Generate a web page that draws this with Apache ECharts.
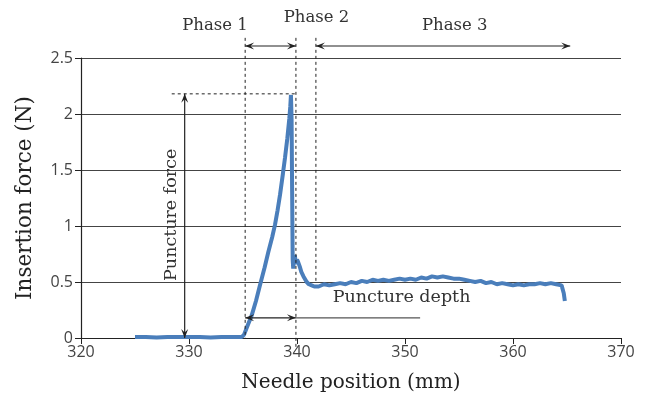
<!DOCTYPE html>
<html><head><meta charset="utf-8">
<script src="https://cdn.jsdelivr.net/npm/echarts@6/dist/echarts.min.js"></script>
<style>html,body{margin:0;padding:0;background:#fff}#c{width:649px;height:407px}</style>
</head><body><div id="c"></div>
<script>
// Needle position (mm)
const positions = [325.0,326,327,328,329,330,331,332,333,334,334.9,335.1,335.3,335.8,336.2,336.57,337.0,337.35,337.7,337.96,338.2,338.43,338.7,338.89,339.1,339.29,339.38,339.44,339.5,339.55,339.6,339.65,339.7,339.8,339.9,340.0,340.1,340.25,340.4,340.6,340.9,341.1,341.36,341.6,342,342.5,343,343.5,344,344.5,345,345.5,346,346.5,347,347.5,348,348.5,349,349.5,350,350.5,351,351.5,352,352.5,353,353.5,354,354.5,355,355.5,356,356.5,357,357.5,358,358.5,359,359.5,360,360.5,361,361.5,362,362.5,363,363.5,364,364.5,364.7,364.8];
// Insertion force (N)
const forces = [0.01,0.01,0.005,0.01,0.01,0.01,0.01,0.005,0.01,0.01,0.01,0.03,0.08,0.2,0.33,0.47,0.63,0.77,0.9,1.01,1.14,1.28,1.47,1.61,1.78,1.96,2.07,2.17,1.95,1.3,0.7,0.62,0.72,0.74,0.66,0.7,0.68,0.64,0.59,0.55,0.5,0.48,0.47,0.46,0.46,0.48,0.47,0.48,0.49,0.48,0.5,0.49,0.51,0.5,0.52,0.51,0.52,0.51,0.52,0.53,0.52,0.53,0.52,0.54,0.53,0.55,0.54,0.55,0.54,0.53,0.53,0.52,0.51,0.5,0.51,0.49,0.5,0.48,0.49,0.48,0.47,0.48,0.47,0.48,0.48,0.49,0.48,0.49,0.48,0.47,0.4,0.33];
const xTicks = [320,330,340,350,360,370];
const yTicks = [0,0.5,1,1.5,2,2.5];
// annotation anchors (data units)
const phaseBounds = [335.2, 339.9, 341.75];
const phaseEnd = 365.3;
const peakForce = 2.18;

const chart = echarts.init(document.getElementById('c'), null, {renderer:'canvas'});
const serif = 'DejaVu Serif';
chart.setOption({
  animation:false,
  grid:{left:81,right:28,top:58,bottom:69},
  xAxis:{type:'value',min:xTicks[0],max:xTicks[xTicks.length-1],interval:10,
    name:'Needle position (mm)',nameLocation:'middle',nameGap:35,
    nameTextStyle:{fontFamily:serif,fontSize:20,color:'#222'},
    axisLine:{lineStyle:{color:'#222',width:1.2}},
    axisTick:{show:true,length:6,lineStyle:{color:'#222'}},
    axisLabel:{fontFamily:'Open Sans',fontSize:16,color:'#444',margin:6},
    splitLine:{show:false}},
  yAxis:{type:'value',min:yTicks[0],max:yTicks[yTicks.length-1],interval:0.5,
    name:'Insertion force (N)',nameLocation:'middle',nameGap:45,nameRotate:90,
    nameTextStyle:{fontFamily:serif,fontSize:21.5,color:'#222'},
    axisLine:{show:true,lineStyle:{color:'#222',width:1.2}},
    axisTick:{show:true,length:6,lineStyle:{color:'#222'}},
    axisLabel:{fontFamily:'Open Sans',fontSize:16,color:'#444',margin:8},
    splitLine:{show:true,lineStyle:{color:'#444',width:1}}},
  series:[{type:'line',data:positions.map((x,i)=>[x,forces[i]]),showSymbol:false,
    lineStyle:{color:'#4a7ebb',width:4},z:5}]
});

const P = (x,y)=>chart.convertToPixel({gridIndex:0},[x,y]);
const g = [];
const ink = '#222';
function dashV(x,y1,y2){const a=P(x,y1),b=P(x,y2);
  g.push({type:'line',shape:{x1:a[0],y1:a[1],x2:b[0],y2:b[1]},style:{stroke:ink,lineWidth:1,lineDash:[3,3]},z:10});}
function head(tip,from){const dx=tip[0]-from[0],dy=tip[1]-from[1],L=Math.hypot(dx,dy),ux=dx/L,uy=dy/L,len=9,w=3.5;
  g.push({type:'polygon',shape:{points:[tip,[tip[0]-ux*len-uy*w,tip[1]-uy*len+ux*w],[tip[0]-ux*len*0.6,tip[1]-uy*len*0.6],[tip[0]-ux*len+uy*w,tip[1]-uy*len-ux*w]]},style:{fill:ink},z:11});}
function arrow(x1,y1,x2,y2,color){const a=P(x1,y1),b=P(x2,y2);
  g.push({type:'line',shape:{x1:a[0],y1:a[1],x2:b[0],y2:b[1]},style:{stroke:color||ink,lineWidth:1.2},z:10});
  head(a,b);head(b,a);}
function text(x,y,s,opt){const a=P(x,y);
  g.push(Object.assign({type:'text',x:a[0],y:a[1],style:{text:s,font:'16.5px "DejaVu Serif"',fill:'#333',align:'center',verticalAlign:'middle'},z:12},opt||{}));}

const topY = 2.68, arrowY = 2.607;
dashV(phaseBounds[0],topY,0);
dashV(phaseBounds[1],topY,-0.1);
dashV(phaseBounds[2],topY,0.5);
arrow(phaseBounds[0],arrowY,phaseBounds[1],arrowY);
arrow(phaseBounds[2],arrowY,phaseEnd,arrowY);
text(332.4,2.79,'Phase 1');
text(341.8,2.86,'Phase 2');
text(354.6,2.79,'Phase 3');
// puncture force
(function(){const a=P(328.4,peakForce),b=P(339.9,peakForce);
  g.push({type:'line',shape:{x1:a[0],y1:a[1],x2:b[0],y2:b[1]},style:{stroke:ink,lineWidth:1,lineDash:[3,3]},z:10});})();
arrow(329.6,peakForce,329.6,0);
(function(){const a=P(328.4,1.1);
  g.push({type:'text',x:a[0],y:a[1],rotation:Math.PI/2,style:{text:'Puncture force',font:'17.5px "DejaVu Serif"',fill:'#333',align:'center',verticalAlign:'middle'},z:12});})();
// puncture depth
arrow(phaseBounds[0],0.18,phaseBounds[1],0.18);
(function(){const a=P(phaseBounds[1],0.18),b=P(351.4,0.18);
  g.push({type:'line',shape:{x1:a[0],y1:a[1],x2:b[0],y2:b[1]},style:{stroke:'#555',lineWidth:1.2},z:10});})();
(function(){const a=P(343.3,0.36);
  g.push({type:'text',x:a[0],y:a[1],style:{text:'Puncture depth',font:'17.5px "DejaVu Serif"',fill:'#333',align:'left',verticalAlign:'middle'},z:12});})();

chart.setOption({graphic:g});
</script></body></html>
